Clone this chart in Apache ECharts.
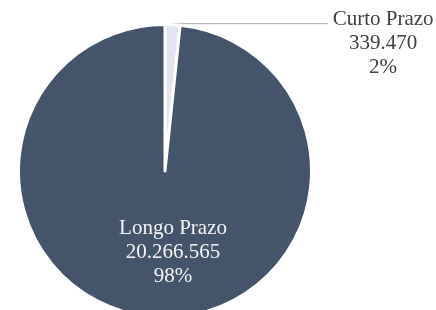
<!DOCTYPE html>
<html>
<head>
<meta charset="utf-8">
<script src="https://cdn.jsdelivr.net/npm/echarts@6/dist/echarts.min.js"></script>
<style>
  html, body { margin: 0; padding: 0; background: #fff; }
  #pieChart { width: 436px; height: 310px; }
</style>
</head>
<body>
<div id="pieChart"></div>
<script>
const categories = ["Curto Prazo", "Longo Prazo"];
const values = [339470, 20266565];
const colors = ["#e1e5f2", "#44546a"];

const fmt = (n) => String(n).replace(/\B(?=(\d{3})+(?!\d))/g, ".");

const pieChart = echarts.init(document.getElementById("pieChart"));

const option = {
  animation: false,
  series: [
    {
      type: "pie",
      center: [165, 171],
      radius: 146.5,
      startAngle: 90,
      clockwise: true,
      percentPrecision: 0,
      itemStyle: {
        borderColor: "#fff",
        borderWidth: 3,
      },
      label: {
        fontFamily: "Liberation Serif",
        fontSize: 21,
        lineHeight: 24,
        align: "center",
        overflow: "none",
        formatter: (p) => p.name + "\n" + fmt(p.value) + "\n" + p.percent + "%",
      },
      labelLine: {
        length: 1,
        length2: 155,
        lineStyle: { color: "#a6a6a6", width: 1 },
      },
      labelLayout: (p) => {
        if (p.dataIndex === 1) {
          return { dx: 12, dy: 5 };
        }
        const pts = p.labelLinePoints;
        if (!pts) return {};
        const end = pts[pts.length - 1];
        return {
          x: end[0] + 5 + p.labelRect.width / 2,
          y: end[1] - 16,
          align: "center",
          verticalAlign: "top",
          labelLinePoints: pts,
        };
      },
      data: categories.map((name, i) => ({
        name: name,
        value: values[i],
        itemStyle: { color: colors[i] },
        label:
          i === 1
            ? { position: "inside", color: "#f4f4f4" }
            : { position: "outside", color: "#404040" },
        labelLine: { show: i === 0 },
      })),
    },
  ],
};

pieChart.setOption(option);
</script>
</body>
</html>
